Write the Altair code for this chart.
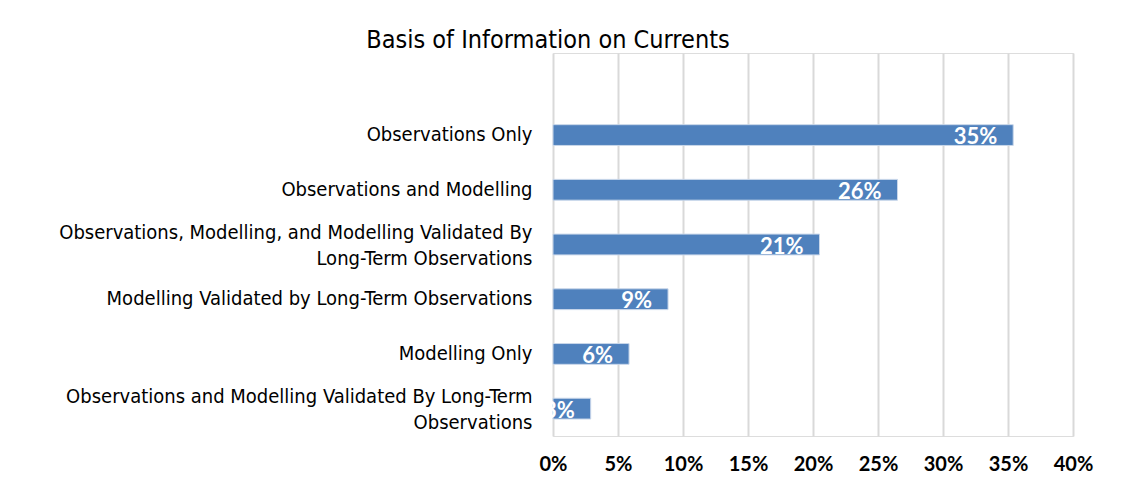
import altair as alt
import pandas as pd

categories = [
    "Observations Only",
    "Observations and Modelling",
    "Observations, Modelling, and Modelling Validated By|Long-Term Observations",
    "Modelling Validated by Long-Term Observations",
    "Modelling Only",
    "Observations and Modelling Validated By Long-Term|Observations",
]
values = [35.4, 26.5, 20.5, 8.85, 5.85, 2.9]
labels = ["35%", "26%", "21%", "9%", "6%", "3%"]
x_ticks = [0, 5, 10, 15, 20, 25, 30, 35, 40]

df = pd.DataFrame({"cat": categories, "val": values, "lab": labels})
domain = [" "] + categories

narrow = "Liberation Sans Narrow, DejaVu Sans Condensed, sans-serif"

y_enc = alt.Y(
    "cat:N",
    sort=None,
    scale=alt.Scale(domain=domain, paddingInner=0.62, paddingOuter=0.31),
    axis=alt.Axis(
        title=None,
        ticks=False,
        domain=False,
        labelPadding=21,
        labelFont=narrow,
        labelFontSize=20,
        labelColor="#000000",
        labelLimit=600,
        labelLineHeight=26,
        labelBaseline="middle",
        labelOffset={"expr": "indexof(datum.label, '|') >= 0 ? -12 : 0"},
        labelExpr="split(datum.label, '|')",
    ),
)
x_enc = alt.X(
    "val:Q",
    scale=alt.Scale(domain=[0, 40], nice=False),
    axis=alt.Axis(
        title=None,
        values=x_ticks,
        labelExpr="datum.value + '%'",
        ticks=False,
        domain=False,
        grid=True,
        gridColor="#D9D9D9",
        gridWidth=2,
        labelFlush=False,
        labelOverlap=False,
        labelFont="Lato",
        labelFontWeight="bold",
        labelFontSize=20,
        labelColor="#000000",
        labelPadding=18,
    ),
)

bars = alt.Chart(df).mark_bar(color="#4F81BD", stroke="#C9D7EA", strokeWidth=1).encode(
    x=x_enc, y=y_enc
)
text = alt.Chart(df).mark_text(
    align="right", baseline="middle", dx=-16, dy=2,
    font="Lato", fontWeight="bold", fontSize=22, color="#FFFFFF"
).encode(x="val:Q", y=alt.Y("cat:N", sort=None), text="lab:N")

chart = (
    alt.layer(bars, text)
    .properties(
        width=520,
        height=383,
        autosize=alt.AutoSizeParams(type="none"),
        padding={"left": 545, "top": 45, "right": 52, "bottom": 40},
        title=alt.TitleParams(
            "Basis of Information on Currents",
            anchor="middle",
            dx=-265,
            offset=0,
            font=narrow,
            fontSize=25,
            fontWeight="normal",
            color="#000000",
        ),
    )
    .configure_view(stroke=None)
    .configure(background="#FFFFFF")
)

chart.save("out.html", embed_options={"renderer": "svg", "actions": False})
